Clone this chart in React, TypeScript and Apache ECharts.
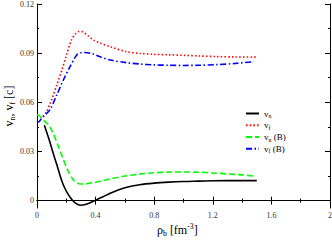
import React, { useEffect, useRef } from "react";
import * as echarts from "echarts";

const vnX = [0.05, 0.08, 0.11, 0.135, 0.16, 0.18, 0.2, 0.225, 0.25, 0.275, 0.3, 0.33, 0.36, 0.4, 0.45, 0.5, 0.55, 0.6, 0.7, 0.8, 0.9, 1.0, 1.1, 1.2, 1.3, 1.4, 1.5];
const vnY = [0.046, 0.038, 0.029, 0.022, 0.0145, 0.0095, 0.0058, 0.0022, -0.0005, -0.0022, -0.0028, -0.0024, -0.0015, 0.0003, 0.0024, 0.0045, 0.0064, 0.0079, 0.0097, 0.0107, 0.0113, 0.0117, 0.0119, 0.0121, 0.0122, 0.0122, 0.0122];

const vfX = [0.04, 0.065, 0.09, 0.1, 0.135, 0.17, 0.2, 0.235, 0.26, 0.285, 0.31, 0.35, 0.385, 0.43, 0.5, 0.61, 0.7, 0.79, 0.9, 1.0, 1.1, 1.23, 1.35, 1.5];
const vfY = [0.0513, 0.0543, 0.0595, 0.0615, 0.0706, 0.0797, 0.0885, 0.098, 0.1015, 0.1032, 0.103, 0.1005, 0.098, 0.0962, 0.0939, 0.0909, 0.0899, 0.0893, 0.089, 0.0887, 0.0883, 0.0879, 0.0877, 0.0876];

const vnBX = [0, 0.02, 0.045, 0.08, 0.11, 0.14, 0.18, 0.21, 0.25, 0.28, 0.32, 0.36, 0.43, 0.5, 0.6, 0.7, 0.8, 0.9, 1.0, 1.1, 1.2, 1.3, 1.4, 1.48];
const vnBY = [0.0525, 0.0515, 0.049, 0.046, 0.041, 0.0345, 0.025, 0.0185, 0.0125, 0.0105, 0.0101, 0.0107, 0.0118, 0.0132, 0.015, 0.0162, 0.017, 0.0174, 0.0175, 0.0173, 0.0169, 0.0163, 0.0157, 0.015];

const vfBX = [0.0, 0.01, 0.03, 0.055, 0.089, 0.135, 0.18, 0.225, 0.271, 0.3, 0.33, 0.38, 0.43, 0.5, 0.61, 0.7, 0.79, 0.9, 1.0, 1.1, 1.23, 1.35, 1.48];
const vfBY = [0.0484, 0.048, 0.05, 0.0523, 0.0555, 0.0645, 0.0736, 0.0817, 0.0889, 0.0902, 0.0904, 0.0896, 0.0878, 0.0858, 0.0842, 0.0834, 0.0829, 0.0826, 0.0825, 0.0826, 0.083, 0.0837, 0.0848];

const yMajor = [0, 0.03, 0.06, 0.09, 0.12];
const yMinor = [0.015, 0.045, 0.075, 0.105];

const seriesNames = ["v_n", "v_f", "v_n (B)", "v_f (B)"];
const xTitle = "{t|ρ}{sub|b}{t| [fm}{sup|-3}{t|]}";
const yTitle = "{t|v}{sub|n}{t|, v}{sub|f}{t| [c]}";

const pair = (xs: number[], ys: number[]) => xs.map((x, i) => [x, ys[i]]);

const FONT = "Liberation Serif";

export default function App() {
  const ref = useRef<HTMLDivElement>(null);
  useEffect(() => {
    if (!ref.current) return;
    const chart = echarts.init(ref.current, undefined, { renderer: "svg" });
    const mkRich = (size: number) => ({
      t: { fontFamily: FONT, fontSize: size, color: "#000" },
      sub: { fontFamily: FONT, fontSize: size * 0.65, color: "#000", padding: [size * 0.55, 0, 0, 0] },
      sup: { fontFamily: FONT, fontSize: size * 0.65, color: "#000", padding: [0, 0, size * 0.6, 0] },
    });
    const fmtName = (name: string) =>
      name
        .split(/(_\w)/)
        .filter((s) => s.length)
        .map((s) => (s.startsWith("_") ? `{sub|${s.slice(1)}}` : `{t|${s}}`))
        .join("");
    const baseY = {
      type: "value" as const,
      min: -0.0045,
      max: 0.12,
      splitLine: { show: false },
    };
    const baseX = {
      type: "value" as const,
      min: 0,
      max: 2,
      interval: 0.4,
      splitLine: { show: false },
    };
    const axisLine = { show: true, lineStyle: { color: "#000", width: 1 } };
    const option: any = {
      animation: false,
      backgroundColor: "#fff",
      grid: { left: 37, right: 2, top: 4, bottom: 32, containLabel: false, outerBoundsMode: "none" },
      graphic: [
        {
          type: "text",
          x: 157,
          y: 230,
          style: {
            text: xTitle,
            align: "left",
            verticalAlign: "middle",
            fontFamily: FONT,
            fontSize: 12,
            fill: "#000",
            rich: mkRich(12),
          },
        },
      ],
      legend: {
        orient: "vertical",
        left: 245,
        top: 109,
        padding: 0,
        itemWidth: 13,
        itemHeight: 8,
        itemGap: 1.8,
        data: seriesNames,
        formatter: fmtName,
        itemStyle: { opacity: 0 },
        textStyle: { fontFamily: FONT, fontSize: 9, color: "#000", rich: mkRich(9) },
      },
      xAxis: [
        {
          ...baseX,
          position: "bottom",
          axisLine,
          axisTick: { show: true, inside: true, length: 4, lineStyle: { color: "#000" } },
          minorTick: { show: true, splitNumber: 2, length: 2, lineStyle: { color: "#000" } },
          axisLabel: {
            fontFamily: FONT,
            fontSize: 8,
            color: "#333",
            margin: 3,
            formatter: (v: number) => String(+v.toFixed(1)),
          },
        },
        {
          ...baseX,
          position: "top",
          axisLine,
          axisTick: { show: true, inside: true, length: 4, lineStyle: { color: "#000" } },
          minorTick: { show: true, splitNumber: 2, length: 2, lineStyle: { color: "#000" } },
          axisLabel: { show: false },
        },
      ],
      yAxis: [
        {
          ...baseY,
          position: "left",
          axisLine,
          axisTick: { show: true, inside: true, length: 5, customValues: yMajor, lineStyle: { color: "#000" } },
          axisLabel: {
            customValues: yMajor,
            fontFamily: FONT,
            fontSize: 8,
            color: "#333",
            margin: 3,
            formatter: (v: number) => (v === 0 ? "0" : String(+v.toFixed(2))),
          },
          name: yTitle,
          nameLocation: "middle",
          nameGap: 21,
          nameMoveOverlap: false,
          nameTextStyle: { fontFamily: FONT, fontSize: 12, color: "#000", rich: mkRich(12) },
        },
        {
          ...baseY,
          position: "left",
          axisLine: { show: false },
          axisTick: { show: true, inside: true, length: 2, customValues: yMinor, lineStyle: { color: "#000" } },
          axisLabel: { show: false },
        },
        {
          ...baseY,
          position: "right",
          axisLine,
          axisTick: { show: true, inside: true, length: 5, customValues: yMajor, lineStyle: { color: "#000" } },
          axisLabel: { show: false },
        },
        {
          ...baseY,
          position: "right",
          axisLine: { show: false },
          axisTick: { show: true, inside: true, length: 2, customValues: yMinor, lineStyle: { color: "#000" } },
          axisLabel: { show: false },
        },
      ],
      series: [
        {
          name: seriesNames[0],
          type: "line",
          data: pair(vnX, vnY),
          smooth: 0.3,
          symbol: "none",
          lineStyle: { color: "#000", width: 1.6, type: "solid" },
          itemStyle: { color: "#000" },
        },
        {
          name: seriesNames[1],
          type: "line",
          data: pair(vfX, vfY),
          smooth: 0.3,
          symbol: "none",
          lineStyle: { color: "#ff0000", width: 1.6, type: [1.5, 2.2] },
          itemStyle: { color: "#ff0000" },
        },
        {
          name: seriesNames[2],
          type: "line",
          data: pair(vnBX, vnBY),
          smooth: 0.3,
          symbol: "none",
          lineStyle: { color: "#00ff00", width: 1.6, type: [6, 3] },
          itemStyle: { color: "#00ff00" },
        },
        {
          name: seriesNames[3],
          type: "line",
          data: pair(vfBX, vfBY),
          smooth: 0.3,
          symbol: "none",
          lineStyle: { color: "#0000ff", width: 1.6, type: [6, 2.5, 1.5, 2.5] },
          itemStyle: { color: "#0000ff" },
        },
      ],
    };
    chart.setOption(option);
    return () => chart.dispose();
  }, []);
  return (
    <div
      ref={ref}
      style={{ position: "fixed", left: 0, top: 0, width: 332, height: 240, background: "#fff" }}
    />
  );
}
